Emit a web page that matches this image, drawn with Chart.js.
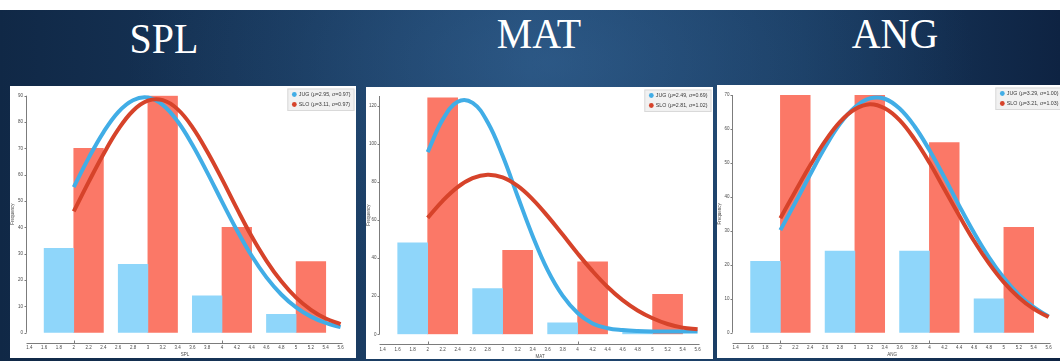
<!DOCTYPE html>
<html>
<head>
<meta charset="utf-8">
<script src="https://cdn.jsdelivr.net/npm/chart.js@4.4.1/dist/chart.umd.min.js"></script>
<style>
  html, body { margin: 0; padding: 0; width: 1060px; height: 361px; overflow: hidden; background: #fff; }
  #slide {
    position: absolute; left: 0; top: 10px; width: 1060px; height: 351px;
    background:
      radial-gradient(ellipse 50% 90% at 52% 15%, rgba(60,110,160,0.45) 0%, rgba(45,90,135,0.2) 50%, rgba(0,0,0,0) 80%),
      linear-gradient(90deg, #102846 0%, #163457 22%, #1f4670 50%, #193b61 76%, #0e2342 100%);
  }
  .title {
    position: absolute; color: #fff; font-family: "Liberation Serif", "DejaVu Serif", serif;
    font-size: 42px; line-height: 42px; white-space: nowrap;
    transform: translateX(-50%) scaleX(0.95);
  }
  .panel { position: absolute; background: #fff; }
  .panel canvas { display: block; }
</style>
</head>
<body>
<div id="slide"></div>
<div class="title" style="left:164px; top:18px;">SPL</div>
<div class="title" style="left:539px; top:13px;">MAT</div>
<div class="title" style="left:895px; top:13px;">ANG</div>

<div class="panel" style="left:10px; top:86px; width:346px; height:272px;"><canvas id="splChart" width="346" height="272"></canvas></div>
<div class="panel" style="left:366px; top:87px; width:347px; height:272px;"><canvas id="matChart" width="347" height="272"></canvas></div>
<div class="panel" style="left:717px; top:85px; width:347px; height:273px;"><canvas id="angChart" width="347" height="273"></canvas></div>

<script>
// Groups and histogram bins (each group's bar is binWidth wide, JUG left of the centre, SLO right)
const groups = ['JUG', 'SLO'];
const binCenters = [2, 3, 4, 5];
const binWidth = 0.4;
const curveX = [2.0, 2.2, 2.4, 2.6, 2.8, 3.0, 3.2, 3.4, 3.6, 3.8, 4.0, 4.2, 4.4, 4.6, 4.8, 5.0, 5.2, 5.4, 5.6];

// SPL
const splJug = [32, 26, 14, 7];
const splSlo = [70, 90, 40, 27];
const splMu = [2.95, 3.11];
const splSigma = [0.97, 0.97];
const splJugCurve = [55.3, 66.3, 76.1, 83.8, 88.3, 89.3, 86.5, 80.3, 71.4, 60.9, 49.8, 39.0, 29.2, 21.0, 14.5, 9.6, 6.1, 3.7, 2.1];
const splSloCurve = [46.1, 57.2, 67.8, 77.2, 84.3, 88.1, 88.3, 84.9, 78.1, 68.8, 58.3, 47.2, 36.6, 27.3, 19.5, 13.3, 8.7, 5.4, 3.3];

// MAT
const matJug = [48, 24, 6, 1];
const matSlo = [124, 44, 38, 21];
const matMu = [2.49, 2.81];
const matSigma = [0.69, 1.02];
const matJugCurve = [95.6, 112.6, 122.0, 121.4, 111.2, 93.6, 72.4, 51.6, 33.7, 20.3, 11.2, 5.7, 3.2, 2.2, 1.7, 1.5, 1.5, 1.5, 1.5];
const matSloCurve = [61.1, 70.0, 77.2, 81.9, 83.7, 82.3, 77.8, 70.8, 62.0, 52.3, 42.4, 33.1, 24.8, 17.9, 12.5, 8.4, 5.4, 3.5, 2.6];

// ANG
const angJug = [21, 24, 24, 10];
const angSlo = [70, 70, 56, 31];
const angMu = [3.29, 3.21];
const angSigma = [1.00, 1.03];
const angJugCurve = [30.2, 38.3, 46.6, 54.6, 61.5, 66.4, 69.0, 68.9, 66.0, 60.8, 53.8, 45.8, 37.4, 29.4, 22.2, 16.1, 11.2, 7.5, 4.8];
const angSloCurve = [33.7, 41.6, 49.3, 56.4, 62.1, 65.8, 67.3, 66.1, 62.6, 57.0, 50.1, 42.3, 34.5, 27.0, 20.4, 14.8, 10.4, 7.0, 4.6];

// Axis ranges
const xRange = [1.4, 5.6];
const xStep = 0.2;

const palette = { jugBar: '#8fd6fa', sloBar: '#fb7867', jugLine: '#41ade6', sloLine: '#d6432a' };
const inkAxis = '#7c7c7c';
const inkText = '#4a4a4a';

Chart.defaults.font.family = '"Liberation Sans", Arial, sans-serif';
Chart.defaults.color = inkText;

// Bars are sized in data units: one bin width on the x scale
const binBars = {
  id: 'binBars',
  afterLayout(chart) {
    const x = chart.scales.x;
    const px = Math.abs(x.getPixelForValue(binCenters[0] + binWidth) - x.getPixelForValue(binCenters[0]));
    chart.data.datasets.forEach(d => { if (d.type === 'bar') d.barThickness = px; });
  }
};

// Offset axis lines (y line a little left of the plot, x line dropped below it)
const axisLines = {
  id: 'axisLines',
  afterDraw(chart, _args, o) {
    const { ctx, chartArea: ca, scales: { x, y } } = chart;
    const ax = Math.round(ca.left - o.gap) + 0.5;
    const ly = Math.round(ca.bottom + o.drop) + 0.5;
    ctx.save();
    ctx.strokeStyle = inkAxis;
    ctx.lineWidth = 1;
    ctx.beginPath();
    ctx.moveTo(ax, y.getPixelForValue(y.max));
    ctx.lineTo(ax, y.getPixelForValue(0));
    y.ticks.forEach(t => {
      const py = Math.round(y.getPixelForValue(t.value)) + 0.5;
      ctx.moveTo(ax - 2, py);
      ctx.lineTo(ax, py);
    });
    ctx.moveTo(ax, ly);
    ctx.lineTo(ca.right + 2, ly);
    x.ticks.forEach(t => {
      const v = Math.round(t.value * 10) / 10;
      if (Number.isInteger(v) && v % 2 === 0) {
        const px = Math.round(x.getPixelForValue(v)) + 0.5;
        ctx.moveTo(px, ly);
        ctx.lineTo(px, ly - 3);
      }
    });
    ctx.stroke();
    ctx.restore();
  }
};

// Legend box inset at the top right, one row per fitted curve
const insetLegend = {
  id: 'insetLegend',
  afterDraw(chart, _args, o) {
    const { ctx } = chart;
    const items = chart.data.datasets
      .filter(d => d.type === 'line')
      .sort((a, b) => a.legendRow - b.legendRow);
    ctx.save();
    ctx.font = '5.3px "Liberation Sans", Arial, sans-serif';
    const textW = Math.max(...items.map(d => ctx.measureText(d.label).width));
    const w = 11.5 + textW + 4;
    const h = 22.5;
    const left = chart.width - o.right - w;
    const top = o.top;
    ctx.fillStyle = 'rgba(240,240,240,0.92)';
    ctx.strokeStyle = '#d9d9d9';
    ctx.lineWidth = 1;
    ctx.fillRect(left, top, w, h);
    ctx.strokeRect(left + 0.5, top + 0.5, w - 1, h - 1);
    ctx.textBaseline = 'middle';
    items.forEach((d, i) => {
      const cy = top + 6 + i * 10;
      ctx.fillStyle = d.borderColor;
      ctx.beginPath();
      ctx.arc(left + 7, cy, 2.4, 0, Math.PI * 2);
      ctx.fill();
      ctx.fillStyle = '#3a3a3a';
      ctx.fillText(d.label, left + 11.5, cy);
    });
    ctx.restore();
  }
};

function statLabel(i, mu, sigma) {
  return groups[i] + ' (\u03bc=' + mu[i].toFixed(2) + ', \u03c3=' + sigma[i].toFixed(2) + ')';
}

function buildChart(id, p) {
  const tickFont = { size: 4.5 };
  return new Chart(document.getElementById(id), {
    type: 'bar',
    data: {
      datasets: [
        {
          type: 'line', label: statLabel(1, p.mu, p.sigma), legendRow: 1, order: 0, clip: 6,
          data: curveX.map((x, i) => ({ x, y: p.sloCurve[i] })),
          borderColor: palette.sloLine, borderWidth: 4, pointRadius: 0, tension: 0.4, fill: false
        },
        {
          type: 'line', label: statLabel(0, p.mu, p.sigma), legendRow: 0, order: 1, clip: 6,
          data: curveX.map((x, i) => ({ x, y: p.jugCurve[i] })),
          borderColor: palette.jugLine, borderWidth: 4, pointRadius: 0, tension: 0.4, fill: false
        },
        {
          type: 'bar', label: groups[0], order: 2,
          data: binCenters.map((x, i) => ({ x, y: p.jug[i] })),
          backgroundColor: palette.jugBar, borderWidth: 0
        },
        {
          type: 'bar', label: groups[1], order: 3,
          data: binCenters.map((x, i) => ({ x, y: p.slo[i] })),
          backgroundColor: palette.sloBar, borderWidth: 0
        }
      ]
    },
    options: {
      responsive: false,
      animation: false,
      devicePixelRatio: 1,
      layout: { padding: { left: 0, right: p.padRight, top: p.padTop, bottom: 0 } },
      plugins: {
        legend: { display: false },
        tooltip: { enabled: false },
        axisLines: { gap: 3.3, drop: 10 },
        insetLegend: { right: 1.5, top: 2.5 }
      },
      scales: {
        x: {
          type: 'linear', position: 'bottom', min: xRange[0], max: xRange[1], offset: false,
          grid: { display: false, drawTicks: false },
          border: { display: false },
          ticks: {
            stepSize: xStep, autoSkip: false, maxRotation: 0, padding: 12.3, font: tickFont, color: inkText,
            callback: v => String(Math.round(v * 10) / 10)
          },
          title: { display: true, text: p.xTitle, font: { size: 4.5 }, color: inkText, padding: { top: 0, bottom: p.titleBottom } },
          afterFit: s => { s.height = p.xAxisH; }
        },
        y: {
          type: 'linear', min: 0, max: p.yMax, offset: false,
          grid: { display: false, drawTicks: false },
          border: { display: false },
          ticks: { stepSize: p.yStep, includeBounds: false, padding: 6.3, font: tickFont, color: inkText },
          title: { display: true, text: 'Frequency', font: { size: 4.5 }, color: inkText, padding: 0 },
          afterFit: s => { s.width = p.yAxisW; }
        }
      }
    },
    plugins: [binBars, axisLines, insetLegend]
  });
}

buildChart('splChart', {
  jug: splJug, slo: splSlo, jugCurve: splJugCurve, sloCurve: splSloCurve, mu: splMu, sigma: splSigma,
  xTitle: 'SPL', yMax: 90, yStep: 10, yAxisW: 19.3, padRight: 4.3, padTop: 9.7, xAxisH: 25.3, titleBottom: 1
});
buildChart('matChart', {
  jug: matJug, slo: matSlo, jugCurve: matJugCurve, sloCurve: matSloCurve, mu: matMu, sigma: matSigma,
  xTitle: 'MAT', yMax: 125, yStep: 20, yAxisW: 16.7, padRight: 6.3, padTop: 8.8, xAxisH: 24.7, titleBottom: 0
});
buildChart('angChart', {
  jug: angJug, slo: angSlo, jugCurve: angJugCurve, sloCurve: angSloCurve, mu: angMu, sigma: angSigma,
  xTitle: 'ANG', yMax: 70, yStep: 10, yAxisW: 18.7, padRight: 4, padTop: 10, xAxisH: 25.3, titleBottom: 1
});
</script>
</body>
</html>
